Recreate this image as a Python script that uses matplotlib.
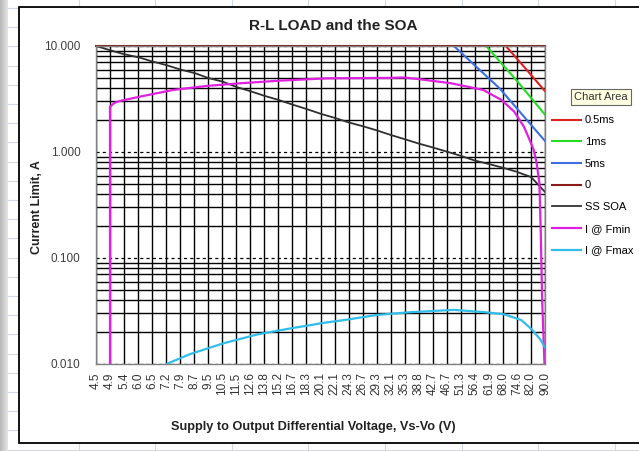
import matplotlib
matplotlib.use("Agg")
import matplotlib.pyplot as plt
import numpy as np
from matplotlib.patches import Rectangle
from matplotlib.lines import Line2D
from matplotlib.ticker import FixedLocator, NullFormatter, NullLocator

plt.rcParams['font.family'] = ['Liberation Sans', 'DejaVu Sans']

# x axis categories (Vs-Vo, volts)
volt_labels = ["4.5", "4.9", "5.4", "6.0", "6.5", "7.2", "7.9", "8.7", "9.5", "10.5",
               "11.5", "12.6", "13.8", "15.2", "16.7", "18.3", "20.1", "22.1", "24.3",
               "26.7", "29.3", "32.1", "35.3", "38.8", "42.7", "46.7", "51.3", "56.4",
               "61.9", "68.0", "74.6", "82.0", "90.0"]
volt_ticks = [float(v) for v in volt_labels]

# pulse SOA lines
t05_v = [69.3, 78.2, 90.0]
t05_a = [10.0, 6.38, 3.75]
t1_v = [60.8, 75.0, 90.0]
t1_a = [10.0, 4.6, 2.25]
t5_v = [49.0, 66.4, 90.0]
t5_a = [10.0, 4.0, 1.27]
zero_v = [4.5, 90.0]
zero_a = [10.0, 10.0]

# steady state SOA
ss_v = volt_ticks
ss_a = [10.0, 9.2, 8.4, 7.8, 7.2, 6.6, 6.0, 5.55, 5.0, 4.6, 4.1, 3.75, 3.4, 3.1, 2.8,
        2.55, 2.3, 2.1, 1.9, 1.75, 1.6, 1.45, 1.32, 1.2, 1.1, 1.01, 0.92, 0.83, 0.77,
        0.71, 0.65, 0.58, 0.42]

# current at Fmin
fmin_v = [4.94, 4.94, 5.08, 5.28, 6.04, 7.53, 9.43, 11.8, 15.3, 21.1, 32.1, 35.0, 38.4,
          48.1, 59.6, 67.4, 73.3, 78.2, 82.0, 83.5, 85.1, 86.7, 87.5, 88.3, 89.7, 90.0]
fmin_a = [0.001, 2.67, 2.9, 3.03, 3.33, 3.85, 4.2, 4.45, 4.71, 4.96, 5.0, 5.05, 4.89,
          4.45, 3.85, 3.09, 2.4, 1.73, 1.21, 1.04, 0.79, 0.51, 0.172, 0.040, 0.010, 0.001]

# current at Fmax
fmax_v = [7.2, 8.43, 10.55, 13.2, 16.5, 18.9, 20.1, 23.6, 29.3, 36.6, 49.0, 60.2,
          68.6, 76.8, 82.8, 87.5, 90.0]
fmax_a = [0.010, 0.0124, 0.0157, 0.019, 0.0217, 0.0233, 0.0242, 0.026, 0.029, 0.0308,
          0.0324, 0.0308, 0.0294, 0.026, 0.0209, 0.0168, 0.0143]

W, H = 639, 451
fig = plt.figure(figsize=(W / 100, H / 100), dpi=100)
fig.patch.set_facecolor('white')

# spreadsheet behind the chart
cell_col = '#d0d7e5'
for x in [79, 155, 232, 308, 385, 462, 538, 615]:
    fig.add_artist(Line2D([x / W, x / W], [0, 1], color=cell_col, lw=0.8, zorder=-5))
for y in np.arange(8, 451, 19.2):
    fig.add_artist(Line2D([8 / W, 1], [1 - y / H, 1 - y / H], color=cell_col, lw=0.8, zorder=-5))
strip = fig.add_axes([0, 0, 8 / W, 1])
strip.imshow(np.linspace(0.72, 0.9, 20).reshape(1, -1), cmap='gray', vmin=0, vmax=1,
             aspect='auto', extent=[0, 1, 0, 1])
strip.axis('off')

# chart area
fig.add_artist(Rectangle((19 / W, 1 - 443 / H), 1.0, (443 - 7) / H, transform=fig.transFigure,
                         facecolor='white', edgecolor='black', lw=1.3, zorder=-4))

ax = fig.add_axes([96 / W, 1 - 364 / H, (545 - 96) / W, (364 - 46) / H])
ax.set_xscale('log')
ax.set_yscale('log')
ax.set_xlim(4.5, 90.0)
ax.set_ylim(0.01, 10.0)

ax.plot(t05_v, t05_a, color='#e02020', lw=1.5, label='0.5ms')
ax.plot(t1_v, t1_a, color='#22dd22', lw=1.5, label='1ms')
ax.plot(t5_v, t5_a, color='#3c6ee0', lw=1.5, label='5ms')
ax.plot(zero_v, zero_a, color='#8b1a1a', lw=1.5, label='0', clip_on=False)
ax.plot(ss_v, ss_a, color='#303030', lw=1.3, label='SS SOA')
ax.plot(fmin_v, fmin_a, color='#e020e0', lw=1.6, label='I @ Fmin')
ax.plot(fmax_v, fmax_a, color='#30bdea', lw=1.6, label='I @ Fmax')

# category axis: evenly spaced ticks from first to last label
ax.xaxis.set_major_locator(FixedLocator(np.geomspace(volt_ticks[0], volt_ticks[-1], len(volt_labels))))
ax.xaxis.set_minor_locator(NullLocator())
ax.set_xticklabels(volt_labels, rotation=90, fontsize=8.5, color='#333333')
ax.yaxis.set_major_locator(FixedLocator([0.01, 0.1, 1.0, 10.0]))
ax.set_yticklabels(["0.010", "0.100", "1.000", "10.000"], fontsize=8.5, color='#404040')
ax.yaxis.set_minor_locator(FixedLocator([m * d for d in [0.01, 0.1, 1.0] for m in range(2, 10)]))
ax.yaxis.set_minor_formatter(NullFormatter())
ax.tick_params(which='both', length=0)
ax.tick_params(axis='y', pad=11)
ax.tick_params(axis='x', pad=6)

ax.grid(True, axis='x', which='major', color='black', lw=1.0)
ax.grid(True, axis='y', which='minor', color='black', lw=1.0)
ax.grid(True, axis='y', which='major', color='black', lw=0.9, ls=(0, (2.5, 2.5)))
ax.set_axisbelow(True)
for s in ax.spines.values():
    s.set_color('#808080')
    s.set_linewidth(1.0)

fig.text(333 / W, 1 - 26 / H, 'R-L LOAD and the SOA', ha='center', va='center',
         fontsize=11, fontweight='bold', color='#222222')
fig.text(313 / W, 1 - 427 / H, 'Supply to Output Differential Voltage, Vs-Vo (V)',
         ha='center', va='center', fontsize=9.2, fontweight='bold', color='#222222')
fig.text(37 / W, 1 - 207 / H, 'Current Limit, A', ha='center', va='center', rotation=90,
         fontsize=9, fontweight='bold', color='#222222')

ax.legend(loc='upper left', bbox_to_anchor=(548 / W, 1 - 111 / H),
          bbox_transform=fig.transFigure, frameon=False, fontsize=8,
          handlelength=2.6, handletextpad=0.3, labelspacing=1.05, borderaxespad=0)

fig.text(601 / W, 1 - 97 / H, 'Chart Area', ha='center', va='center', fontsize=8,
         color='#333333',
         bbox=dict(boxstyle='square,pad=0.25', facecolor='#ffffe1', edgecolor='#666666', lw=0.8))

fig.savefig('out.png', dpi=100)
